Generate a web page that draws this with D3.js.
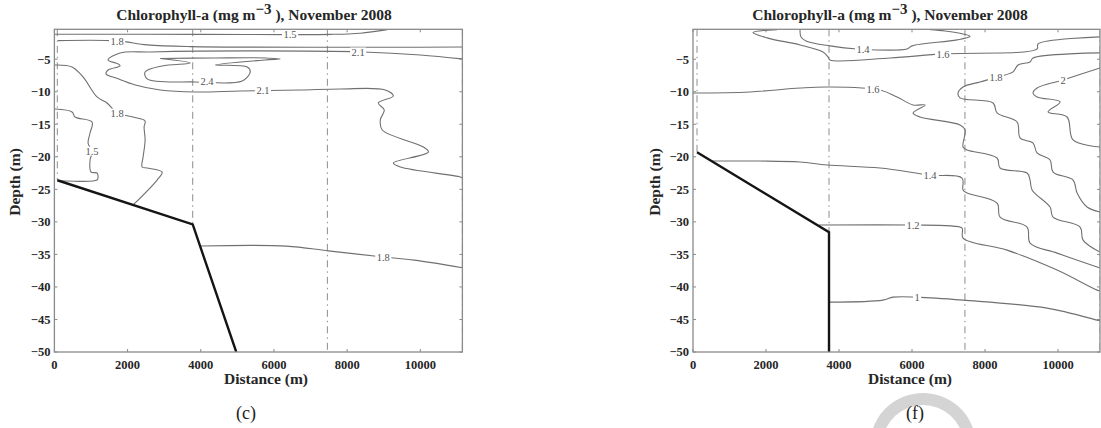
<!DOCTYPE html>
<html>
<head>
<meta charset="utf-8">
<script src="https://cdn.jsdelivr.net/npm/d3@7"></script>
<style>
  html, body { margin: 0; padding: 0; background: #fff; }
  svg { display: block; }
</style>
</head>
<body>
<div class="chart-container"></div>
<script>
// ---------- data (distance in m, depth in m)

var distTicks = [0, 2000, 4000, 6000, 8000, 10000];
var depthTicks = [-5, -10, -15, -20, -25, -30, -35, -40, -45, -50];
var distMax = 11150;
var depthTop = -0.4;
var depthBottom = -50;

var titleMain = "Chlorophyll-a (mg  m";
var titleSup = "\u22123";
var titleTail = " ), November 2008";
var panelLetters = ["(c)", "(f)"];

// panel (c)
var bathyC = [[80, -23.6], [3780, -30.4], [4970, -50]];
var stationsC = [80, 3780, 7460, 11150];

var c15TopC = [[0, -1.15], [3984, -1.18], [7541, -1.18], [8360, -1.0], [9098, -0.45]];
var c18TopC = [[98, -2.14], [1713, -2.18], [2534, -2.8], [3711, -3.06], [11150, -3.11]];
var c21C = [[11150, -4.95], [10001, -4.34], [8444, -3.88], [5352, -3.72], [2616, -3.88], [1795, -4.03],
  [1466, -5.11], [1740, -5.72], [1795, -6.03], [1466, -6.65], [1412, -7.26], [1685, -7.88], [2211, -8.95],
  [2890, -9.72], [3847, -10.03], [5077, -9.88], [6720, -9.72], [7815, -9.57], [9043, -9.72], [9262, -10.65],
  [8851, -11.72], [9015, -12.8], [8906, -14.34], [8961, -15.88], [10084, -18.49], [10221, -19.26],
  [9262, -20.95], [9454, -21.57], [11096, -23.1], [11150, -23.26]];
var c24C = [[2890, -4.88], [3711, -5.57], [2944, -6.03], [2479, -6.95], [2534, -8.03], [3847, -8.49],
  [5133, -8.34], [5352, -6.95], [5270, -6.18], [4394, -5.88], [5762, -5.11], [6172, -4.95], [5762, -4.8],
  [4394, -4.8], [2890, -4.88]];
var c18LeftC = [[16, -5.88], [482, -6.18], [782, -7.72], [1166, -10.8], [1440, -11.72], [1713, -13.26],
  [2150, -13.88], [2479, -14.49], [2451, -15.41], [2479, -17.41], [2424, -20.03], [2397, -21.57],
  [2534, -21.72], [2944, -22.34], [2807, -23.57], [2150, -27.4]];
var c15LeftC = [[16, -12.65], [482, -13.1], [564, -13.88], [1029, -14.65], [974, -16.34], [919, -17.88],
  [1029, -19.26], [974, -20.49], [1001, -22.34], [1166, -22.49], [1193, -23.1], [1166, -23.57],
  [345, -23.72], [100, -23.7]];
var c18DeepC = [[3990, -33.7], [6337, -33.72], [7486, -34.45], [8988, -35.4], [9837, -35.88], [11150, -37.06]];

var labelsC = [["1.5", 6440, -1.18], ["1.8", 1713, -2.18], ["2.1", 8300, -3.87], ["2.1", 5700, -9.8],
  ["2.4", 4170, -8.45], ["1.8", 1713, -13.26], ["1.5", 1029, -19.1], ["1.8", 8988, -35.4]];

// panel (f)
var bathyF = [[110, -19.3], [3726, -31.6], [3726, -50]];
var stationsF = [110, 3726, 7450, 11150];

var c14TopF = [[2932, -0.45], [2959, -1.57], [3096, -2.18], [3754, -2.95], [4494, -3.42], [5864, -3.42],
  [6001, -2.95], [7234, -2.03], [7590, -1.49], [7398, -1.11], [6905, -0.65], [6494, -0.45]];
var c16TopF = [[2302, -0.45], [1644, -0.88], [2028, -1.72], [2932, -2.8], [3562, -3.88], [3699, -4.65],
  [3754, -5.11], [5398, -4.8], [6850, -4.18], [9426, -3.42], [9453, -2.65], [11150, -1.57]];
var c18F = [[11150, -4.03], [9316, -4.8], [9234, -5.42], [8905, -5.88], [8768, -6.95], [8357, -7.72],
  [7864, -8.49], [7398, -9.26], [7261, -10.18], [7316, -10.95], [8220, -11.72], [8330, -13.26],
  [8878, -14.65], [8960, -17.1], [9316, -17.88], [9426, -19.41], [9782, -20.49], [9864, -22.34],
  [10412, -23.57], [10522, -25.57], [10796, -27.72], [11150, -28.49]];
var c20F = [[11150, -6.34], [10138, -8.18], [9426, -9.42], [9316, -10.18], [9426, -10.8], [10056, -11.57],
  [9727, -13.1], [10248, -13.88], [10412, -17.41], [11150, -18.49]];
var c16LowF = [[0, -10.18], [1562, -10.03], [2932, -9.42], [3672, -9.26], [5124, -9.72], [5590, -10.8],
  [6028, -12.03], [6357, -12.03], [6028, -13.26], [6220, -13.88], [7316, -15.1], [7453, -15.88],
  [7398, -18.49], [7508, -18.95], [8330, -20.18], [8412, -21.72], [9152, -22.49], [9234, -23.57],
  [9289, -25.1], [9782, -27.72], [9864, -29.26], [10604, -30.8], [10686, -32.8], [11150, -34.65]];
var c14LowF = [[500, -20.65], [1836, -20.65], [2932, -20.8], [3672, -21.26], [5124, -21.72],
  [6494, -22.8], [7371, -23.26], [7398, -25.1], [7508, -25.57], [8330, -27.1], [8412, -29.26],
  [9152, -30.8], [9234, -33.26], [9974, -34.8], [11070, -36.95], [11150, -37.1]];
var c12F = [[3450, -30.49], [6028, -30.49], [7124, -30.65], [7371, -30.95], [7398, -32.49],
  [8604, -34.34], [9974, -37.41], [11070, -40.49], [11150, -40.6]];
var c10F = [[3726, -42.34], [5206, -42.03], [5480, -41.57], [6138, -41.57], [7398, -42.03],
  [9700, -43.26], [11070, -45.1], [11150, -45.2]];

var labelsF = [["1.4", 4658, -3.42], ["1.6", 6850, -4.18], ["1.8", 8300, -7.8], ["2", 10138, -8.18],
  ["1.6", 4932, -9.66], ["1.4", 6494, -22.8], ["1.2", 6028, -30.49], ["1", 6138, -41.57]];

// ---------- layout

var width = 1101;
var height = 428;
var serif = "'Liberation Serif', 'Times New Roman', serif";
var lineGray = "#707070";
var frameGray = "#8a8a8a";
var textColor = "#262626";

var panels = [
  {
    left: 54.4, right: 462.4, top: 29.3, bottom: 352,
    contours: [c15TopC, c18TopC, c21C, c24C, c18LeftC, c15LeftC, c18DeepC],
    labels: labelsC, bathy: bathyC, stations: stationsC,
    titleX: 254, xLabelX: 266, yLabelX: 15, letterX: 246, letter: panelLetters[0], mark: false
  },
  {
    left: 693, right: 1100, top: 29.3, bottom: 352,
    contours: [c14TopF, c16TopF, c18F, c20F, c16LowF, c14LowF, c12F, c10F],
    labels: labelsF, bathy: bathyF, stations: stationsF,
    titleX: 890, xLabelX: 910, yLabelX: 655, letterX: 915, letter: panelLetters[1], mark: true
  }
];

var svg = d3.select(".chart-container").append("svg")
  .attr("width", width)
  .attr("height", height)
  .style("background", "#fff");

function bathyDepthAt(bathy, d)
{
  for (var i = 0; i < bathy.length - 1; i++)
  {
    var a = bathy[i], b = bathy[i + 1];
    if (d >= a[0] && d <= b[0] && b[0] > a[0])
      return a[1] + (b[1] - a[1]) * (d - a[0]) / (b[0] - a[0]);
  }
  return depthBottom;
}

function drawPanel(p)
{
  var x = d3.scaleLinear().domain([0, distMax]).range([p.left, p.right]);
  var y = d3.scaleLinear().domain([depthBottom, depthTop]).range([p.bottom, p.top]);

  var g = svg.append("g").attr("class", "panel");

  var clipId = "clip" + Math.round(p.left);
  g.append("clipPath").attr("id", clipId)
    .append("rect")
    .attr("x", p.left).attr("y", p.top)
    .attr("width", p.right - p.left).attr("height", p.bottom - p.top);

  var plot = g.append("g").attr("clip-path", `url(#${clipId})`);

  // station lines (dash-dot), from surface down to the bottom
  plot.selectAll("line.station")
    .data(p.stations)
    .enter()
    .append("line")
    .classed("station", true)
    .attr("x1", d => x(d)).attr("x2", d => x(d))
    .attr("y1", y(depthTop))
    .attr("y2", d => y(Math.max(depthBottom, bathyDepthAt(p.bathy, d))))
    .attr("stroke", "#8c8c8c")
    .attr("stroke-width", 1)
    .attr("stroke-dasharray", "7,4,1.5,4");

  var line = d3.line()
    .x(d => x(d[0]))
    .y(d => y(d[1]))
    .curve(d3.curveCatmullRom.alpha(0.5));

  plot.selectAll("path.contour")
    .data(p.contours)
    .enter()
    .append("path")
    .classed("contour", true)
    .attr("d", line)
    .attr("fill", "none")
    .attr("stroke", lineGray)
    .attr("stroke-width", 1.1);

  // inline contour labels: white gap behind the text
  var lab = plot.selectAll("g.clabel")
    .data(p.labels)
    .enter()
    .append("g")
    .classed("clabel", true)
    .attr("transform", d => `translate(${x(d[1])}, ${y(d[2])})`);

  lab.append("text")
    .attr("dy", "0.35em")
    .attr("text-anchor", "middle")
    .attr("font-family", serif)
    .attr("font-size", 10.5)
    .attr("fill", "#555")
    .text(d => d[0]);

  lab.each(function()
  {
    var self = d3.select(this);
    var box = self.select("text").node().getBBox();
    self.insert("rect", "text")
      .attr("x", box.x - 1.5).attr("y", box.y + 1)
      .attr("width", box.width + 3).attr("height", box.height - 2)
      .attr("fill", "#fff");
  });

  // bathymetry
  plot.append("path")
    .datum(p.bathy)
    .attr("d", d3.line().x(d => x(d[0])).y(d => y(d[1])))
    .attr("fill", "none")
    .attr("stroke", "#151515")
    .attr("stroke-width", 2.4)
    .attr("stroke-linejoin", "miter");

  // frame
  g.append("rect")
    .attr("x", p.left).attr("y", p.top)
    .attr("width", p.right - p.left).attr("height", p.bottom - p.top)
    .attr("fill", "none")
    .attr("stroke", frameGray)
    .attr("stroke-width", 1.3);

  // ticks inward on all four sides
  var tl = 3;
  g.selectAll("line.xtick-b").data(distTicks).enter().append("line")
    .attr("x1", d => x(d)).attr("x2", d => x(d))
    .attr("y1", p.bottom).attr("y2", p.bottom - tl)
    .attr("stroke", frameGray);
  g.selectAll("line.xtick-t").data(distTicks).enter().append("line")
    .attr("x1", d => x(d)).attr("x2", d => x(d))
    .attr("y1", p.top).attr("y2", p.top + tl)
    .attr("stroke", frameGray);
  g.selectAll("line.ytick-l").data(depthTicks).enter().append("line")
    .attr("x1", p.left).attr("x2", p.left + tl)
    .attr("y1", d => y(d)).attr("y2", d => y(d))
    .attr("stroke", frameGray);
  g.selectAll("line.ytick-r").data(depthTicks).enter().append("line")
    .attr("x1", p.right).attr("x2", p.right - tl)
    .attr("y1", d => y(d)).attr("y2", d => y(d))
    .attr("stroke", frameGray);

  // tick labels
  g.selectAll("text.xlab").data(distTicks).enter().append("text")
    .attr("x", d => x(d))
    .attr("y", p.bottom + 17)
    .attr("text-anchor", "middle")
    .attr("font-family", serif).attr("font-weight", "bold")
    .attr("font-size", 12.5).attr("fill", textColor)
    .text(d => d);
  g.selectAll("text.ylab").data(depthTicks).enter().append("text")
    .attr("x", p.left - 4)
    .attr("y", d => y(d))
    .attr("dy", "0.35em")
    .attr("text-anchor", "end")
    .attr("font-family", serif).attr("font-weight", "bold")
    .attr("font-size", 12.5).attr("fill", textColor)
    .text(d => "\u2212" + Math.abs(d));

  // axis titles
  g.append("text")
    .attr("x", p.xLabelX).attr("y", p.bottom + 32)
    .attr("text-anchor", "middle")
    .attr("font-family", serif).attr("font-weight", "bold")
    .attr("font-size", 15.5).attr("fill", textColor)
    .text("Distance (m)");
  g.append("text")
    .attr("transform", `translate(${p.yLabelX + 5}, 182) rotate(-90)`)
    .attr("text-anchor", "middle")
    .attr("font-family", serif).attr("font-weight", "bold")
    .attr("font-size", 15.5).attr("fill", textColor)
    .text("Depth (m)");

  var title = g.append("text")
    .attr("x", p.titleX).attr("y", 20)
    .attr("text-anchor", "middle")
    .attr("font-family", serif).attr("font-weight", "bold")
    .attr("font-size", 15.5).attr("fill", textColor);
  title.append("tspan").text(titleMain);
  title.append("tspan").attr("dy", -6).attr("font-size", 15).text(titleSup);
  title.append("tspan").attr("dy", 6).text(titleTail);

  if (p.mark)
  {
    g.append("path")
      .attr("transform", `translate(${p.letterX + 8}, 446)`)
      .attr("d", d3.arc().innerRadius(41).outerRadius(53).startAngle(-2.2).endAngle(2.2)())
      .attr("fill", "#d4d4d4");
  }

  g.append("text")
    .attr("x", p.letterX).attr("y", 419)
    .attr("text-anchor", "middle")
    .attr("font-family", serif)
    .attr("font-size", 18).attr("fill", "#222")
    .text(p.letter);
}

panels.forEach(drawPanel);
</script>
</body>
</html>
